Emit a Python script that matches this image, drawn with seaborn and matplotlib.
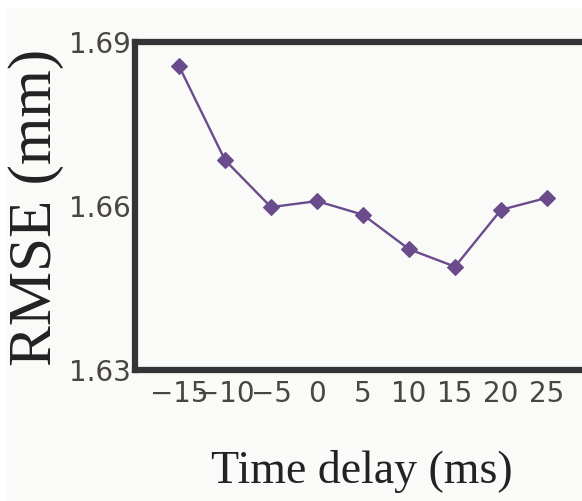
import matplotlib
matplotlib.use("Agg")
import matplotlib.pyplot as plt
from matplotlib.patches import Rectangle
import seaborn as sns
import pandas as pd

# Data
time_delay = [-15, -10, -5, 0, 5, 10, 15, 20, 25]
rmse = [1.6856, 1.6684, 1.6598, 1.6609, 1.6584, 1.6521, 1.6489, 1.6593, 1.6615]
x_ticks = [-15, -10, -5, 0, 5, 10, 15, 20, 25]
y_ticks = [1.63, 1.66, 1.69]
y_tick_labels = ["1.63", "1.66", "1.69"]
x_label = "Time delay (ms)"
y_label = "RMSE (mm)"

df = pd.DataFrame({"delay": time_delay, "rmse": rmse})

sns.set_style("white")
plt.rcParams["font.family"] = ["DejaVu Sans"]

W, H = 582, 501
fig = plt.figure(figsize=(W / 100, H / 100), dpi=100, facecolor="white")
bg = "#fafaf8"
fig.patches.append(Rectangle((7 / W, 0), 1, 1 - 8 / H, transform=fig.transFigure,
                             facecolor=bg, edgecolor="none", zorder=-10))

left_px, right_px, top_px, bottom_px = 135, 592, 42, 370
ax = fig.add_axes([left_px / W, 1 - bottom_px / H, (right_px - left_px) / W,
                   (bottom_px - top_px) / H])
ax.set_facecolor(bg)

purple = "#6a4c8c"
sns.lineplot(data=df, x="delay", y="rmse", ax=ax, color=purple, linewidth=1.7,
             marker="D", markersize=8.5, markeredgecolor=purple, markeredgewidth=0.8)

# x scale: -15 at px 179, 46 px per 5 units
x0 = -15 - (179 - left_px) / 46 * 5
x1 = -15 + (right_px - 179) / 46 * 5
ax.set_xlim(x0, x1)
ax.set_ylim(1.63, 1.69)
ax.set_xticks(x_ticks)
ax.set_xticklabels(["\u2212" + str(-v) if v < 0 else str(v) for v in x_ticks])
ax.set_yticks(y_ticks)
ax.set_yticklabels(y_tick_labels)

spine_col = "#333338"
for s in ax.spines.values():
    s.set_linewidth(4.5)
    s.set_color(spine_col)
    s.set_visible(True)

ax.tick_params(axis="both", direction="in", length=3, width=2.5, color=spine_col,
               labelsize=20, labelcolor="#4a4545")
ax.tick_params(axis="x", pad=7)
ax.tick_params(axis="y", pad=3)

ax.set_xlabel("")
ax.set_ylabel("")
fig.text(362 / W, 1 - 483 / H, x_label, ha="center", va="baseline",
         fontsize=33, family="Liberation Serif", color="#222222")
fig.text(36 / W, 1 - 207 / H, y_label, ha="center", va="center", rotation=90,
         fontsize=44, family="Liberation Serif", color="#222222")

fig.savefig("out.png", dpi=100, facecolor=fig.get_facecolor())
